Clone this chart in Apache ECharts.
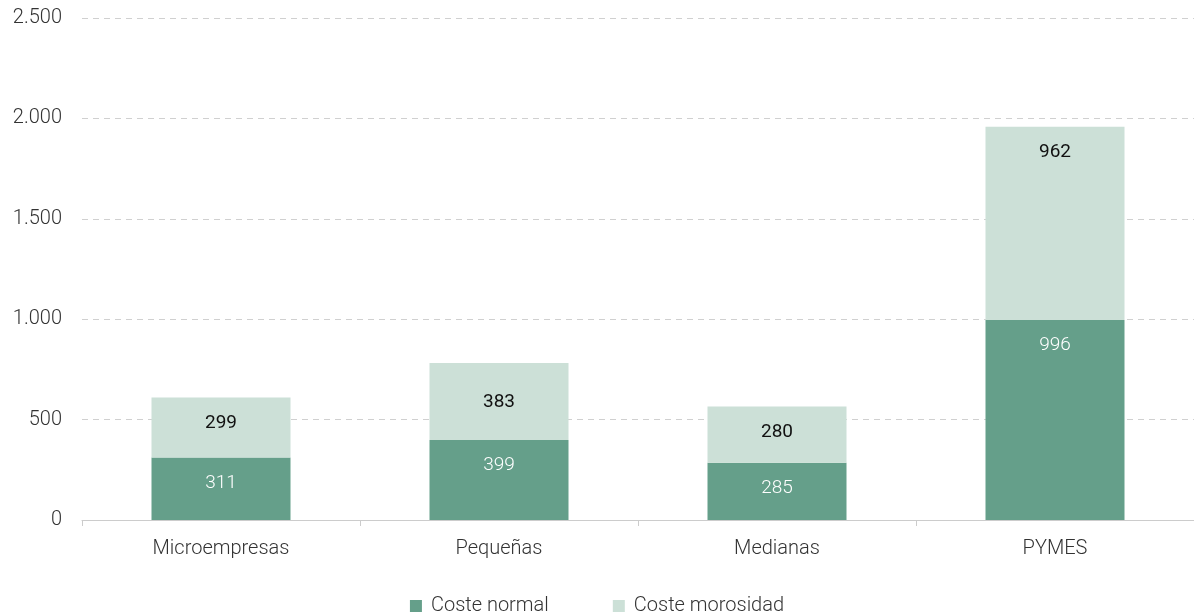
<!DOCTYPE html>
<html><head><meta charset="utf-8">
<script src="https://cdn.jsdelivr.net/npm/echarts@6/dist/echarts.min.js"></script>
<style>html,body{margin:0;padding:0;background:#fff}#c{width:1194px;height:616px}</style>
</head><body><div id="c"></div>
<script>
const categories = ['Microempresas','Pequeñas','Medianas','PYMES'];
const costeNormal = [311, 399, 285, 996];
const costeMorosidad = [299, 383, 280, 962];
const seriesNames = ['Coste normal','Coste morosidad'];
const FONT = 'Roboto';
const fmt = v => String(v).replace(/\B(?=(\d{3})+(?!\d))/g, '.');
const morosidadLabelDist = [16, 30, 16, 16];
const chart = echarts.init(document.getElementById('c'));
chart.setOption({
  animation:false,
  textStyle:{fontFamily:FONT},
  grid:{left:82,right:0,top:18,bottom:96,containLabel:false},
  legend:{bottom:-5,left:'center',itemWidth:12,itemHeight:12,itemGap:64,icon:'rect',
    textStyle:{fontFamily:FONT,fontSize:20,fontWeight:300,color:'#333',padding:[0,0,0,4]}},
  xAxis:{type:'category',data:categories,
    axisLine:{lineStyle:{color:'#ccc'}},
    axisTick:{show:true,length:6,lineStyle:{color:'#ccc'}},
    axisLabel:{fontFamily:FONT,fontSize:20,fontWeight:300,color:'#333',margin:19}},
  yAxis:{type:'value',min:0,max:2500,interval:500,
    axisLine:{show:false},axisTick:{show:false},
    splitLine:{lineStyle:{color:'#d0d0d0',type:[6,5]}},
    axisLabel:{fontFamily:FONT,fontSize:20,fontWeight:300,color:'#333',margin:20,formatter:fmt}},
  series:[
    {name:seriesNames[0],type:'bar',stack:'a',data:costeNormal,barWidth:'50%',
     itemStyle:{color:'#659f8a'},
     label:{show:true,position:'insideTop',distance:16,color:'#fff',fontFamily:FONT,fontSize:19,fontWeight:300,formatter:p=>fmt(p.value)}},
    {name:seriesNames[1],type:'bar',stack:'a',barWidth:'50%',
     data:costeMorosidad.map((v,i)=>({value:v,label:{distance:morosidadLabelDist[i]}})),
     itemStyle:{color:'#cce0d7'},
     label:{show:true,position:'insideTop',distance:16,color:'#111',fontFamily:FONT,fontSize:19,fontWeight:400,formatter:p=>fmt(p.value)}}
  ]
});
</script></body></html>
